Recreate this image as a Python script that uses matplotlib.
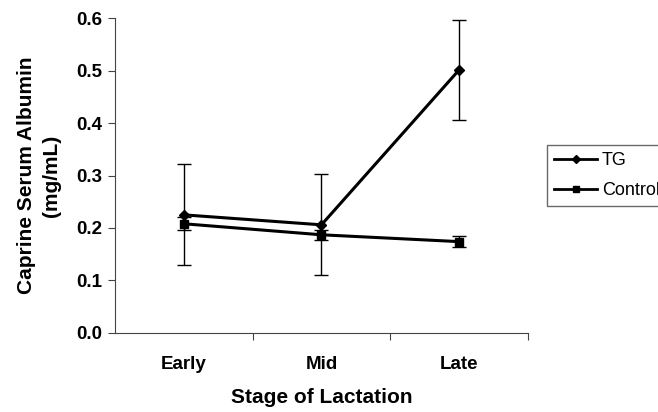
import matplotlib.pyplot as plt
from matplotlib.lines import Line2D
import numpy as np

stages = ['Early', 'Mid', 'Late']
tg_mean = [0.225, 0.206, 0.501]
tg_err = [0.096, 0.096, 0.095]
control_mean = [0.208, 0.187, 0.174]
control_err = [0.012, 0.010, 0.011]

plt.rcParams['font.family'] = ['Liberation Sans', 'DejaVu Sans']

fig = plt.figure(figsize=(6.58, 4.12), dpi=100)
ax = fig.add_axes([0.175, 0.192, 0.627, 0.764])

x = np.arange(len(stages))
ax.errorbar(x, tg_mean, yerr=tg_err, color='black', lw=2.2,
            marker='D', markersize=5, ecolor='black', elinewidth=1,
            capsize=5, capthick=1)
ax.errorbar(x, control_mean, yerr=control_err, color='black', lw=2.2,
            marker='s', markersize=5.5, ecolor='black', elinewidth=1,
            capsize=5, capthick=1)

ax.set_xlim(-0.5, 2.5)
ax.set_ylim(0, 0.6)
yt = np.arange(0, 0.61, 0.1)
ax.set_yticks(yt)
ax.set_yticklabels(['{:.1f}'.format(v) for v in yt], fontweight='bold', fontsize=13.5)
ax.set_xticks([0.5, 1.5, 2.5])
ax.set_xticklabels([])
ax.set_xticks(x, minor=True)
ax.set_xticklabels(stages, minor=True, fontweight='bold', fontsize=13.5)
ax.tick_params(axis='x', which='minor', length=0, pad=16.5)
ax.tick_params(axis='x', which='major', length=5, direction='out', color='#444444')
ax.tick_params(axis='y', length=5, direction='out', color='#444444', pad=4)

for side in ['top', 'right']:
    ax.spines[side].set_visible(False)
for side in ['left', 'bottom']:
    ax.spines[side].set_color('#444444')

ax.set_xlabel('Stage of Lactation', fontweight='bold', fontsize=15, labelpad=11)
ax.set_ylabel('Caprine Serum Albumin\n(mg/mL)', fontweight='bold', fontsize=15,
              labelpad=11, linespacing=1.45)

# legend sits partly outside the figure, as in the original
handles = [Line2D([], [], color='black', lw=2, marker='D', markersize=4.5),
           Line2D([], [], color='black', lw=2, marker='s', markersize=5)]
leg = fig.legend(handles, ['TG', 'Control'], loc='upper left',
                 bbox_to_anchor=(0.831, 0.648), frameon=True, fancybox=False,
                 fontsize=13, handlelength=2.4, handletextpad=0.25,
                 borderpad=0.4, labelspacing=0.72, borderaxespad=0)
leg.get_frame().set_edgecolor('#444444')
leg.get_frame().set_linewidth(1)

fig.savefig('out.png', dpi=100)
